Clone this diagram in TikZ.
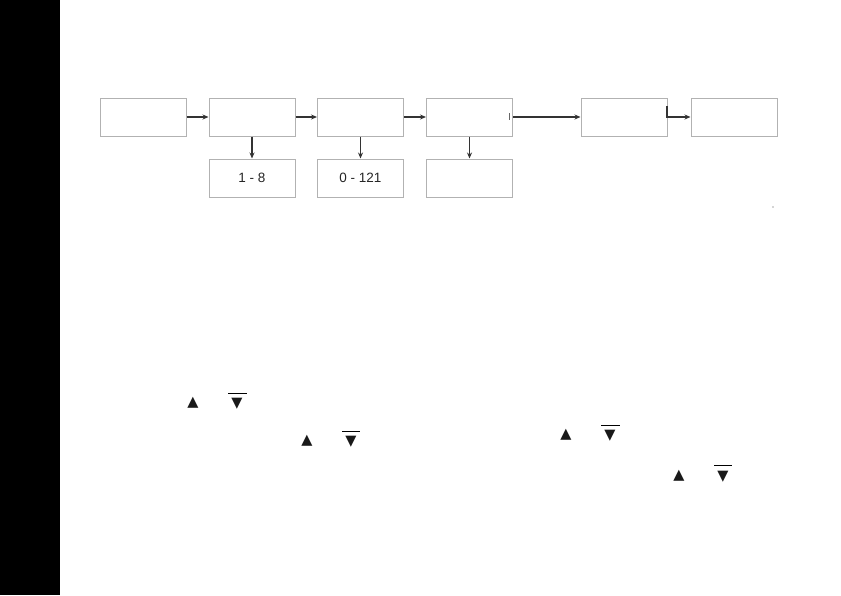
\documentclass[tikz,border=0pt]{standalone}
\usepackage{fontspec}
\usetikzlibrary{arrows.meta}
\setmainfont{Liberation Sans}
\newfontfamily\symfont{DejaVu Sans}
\begin{document}
\begin{tikzpicture}[x=1pt,y=-1pt,
  box/.style={draw=black!30,line width=1pt,minimum width=86pt,minimum height=38pt,inner sep=0pt,font=\fontsize{13.5}{15}\selectfont,text=black!85},
  conn/.style={draw=black!80,line width=1.2pt,-{Stealth[length=6pt,width=5pt]}},
  tri/.style={inner sep=0pt,font=\symfont\fontsize{14.5}{15}\selectfont,text=black!90},
  bar/.style={draw=black,line width=1pt}]
\useasboundingbox (0,0) rectangle (841,595);
\fill[white] (0,0) rectangle (841,595);
\fill[black] (0,0) rectangle (60,595);
% top row
\node[box] (b1) at (143,117) {};
\node[box] (b2) at (252,117) {};
\node[box] (b3) at (360.5,117) {};
\node[box] (b4) at (469.5,117) {};
\node[box] (b5) at (624,117) {};
\node[box] (b6) at (734,117) {};
% bottom row
\node[box] (c2) at (252,178) {1 - 8};
\node[box] (c3) at (360.5,178) {0 - 121};
\node[box] (c4) at (469.5,178) {};
% connectors
\draw[conn] (b1.east) -- (b2.west);
\draw[conn] (b2.east) -- (b3.west);
\draw[conn] (b3.east) -- (b4.west);
\draw[conn] (b4.east) -- (b5.west);
\draw[conn] (b5.east) -- (b6.west);
\draw[conn] (b2.south) -- (c2.north);
\draw[conn] (b3.south) -- (c3.north);
\draw[conn] (b4.south) -- (c4.north);
% small marks
\coordinate (m1) at (667,106);
\coordinate (m2) at (667,118);
\draw[black!80,line width=1.2pt] (m1) -- (m2);
\coordinate (m3) at (509.5,113);
\coordinate (m4) at (509.5,120);
\draw[black!60,line width=0.6pt] (m3) -- (m4);
\coordinate (d1) at (773,207);
\fill[black!70] (d1) circle (0.7pt);
% triangle symbols
\node[tri] (u1) at (193,403) {▲};
\node[tri] (v1) at (237,404) {▼};
\draw[bar] (228,393) -- (247,393);
\node[tri] (u2) at (307,441) {▲};
\node[tri] (v2) at (351,442) {▼};
\draw[bar] (342,431) -- (360,431);
\node[tri] (u3) at (566,435) {▲};
\node[tri] (v3) at (610,436) {▼};
\draw[bar] (601,425) -- (620,425);
\node[tri] (u4) at (679,476) {▲};
\node[tri] (v4) at (723,477) {▼};
\draw[bar] (714,465) -- (732,465);
\end{tikzpicture}
\end{document}
